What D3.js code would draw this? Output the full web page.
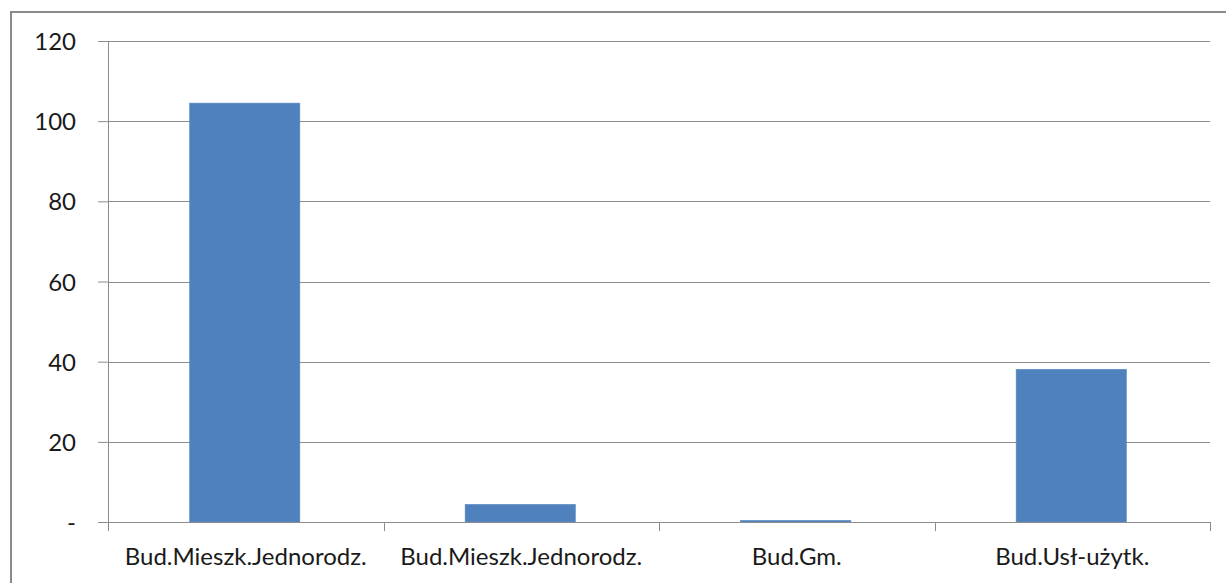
<!DOCTYPE html>
<html>
<head>
<meta charset="utf-8">
<script src="https://cdn.jsdelivr.net/npm/d3@7"></script>
<style>
  html, body { margin: 0; padding: 0; background: #ffffff; }
  svg { display: block; }
  text { font-family: Lato, "Open Sans", sans-serif; fill: #1a1a1a; }
</style>
</head>
<body>
<svg id="chart" width="1226" height="583"></svg>
<script>
// Building categories and their values
const categories = [
  "Bud.Mieszk.Jednorodz.",
  "Bud.Mieszk.Jednorodz.",
  "Bud.Gm.",
  "Bud.Usł-użytk."
];
const values = [104.5, 4.4, 0.4, 38.1];
const yTicks = [0, 20, 40, 60, 80, 100, 120];

const svg = d3.select("#chart");
const W = 1226, H = 583;
const plotLeft = 108, plotRight = 1210, plotTop = 41, plotBottom = 522;
const fontSize = 24;

// outer frame
svg.append("rect")
  .attr("x", 11).attr("y", 12)
  .attr("width", W).attr("height", H)
  .attr("fill", "none")
  .attr("stroke", "#8a8a8a")
  .attr("stroke-width", 2);

// one band per category position (two categories share a name)
const x = d3.scaleBand()
  .domain(d3.range(categories.length))
  .range([plotLeft, plotRight])
  .paddingInner(0.6)
  .paddingOuter(0.3);

const y = d3.scaleLinear().domain([0, 120]).range([plotBottom, plotTop]);

// horizontal gridlines
svg.append("g")
  .selectAll("line")
  .data(yTicks.filter(d => d > 0))
  .join("line")
  .attr("x1", plotLeft).attr("x2", plotRight)
  .attr("y1", d => Math.round(y(d)) + 0.5).attr("y2", d => Math.round(y(d)) + 0.5)
  .attr("stroke", "#8c8c8c")
  .attr("stroke-width", 1);

// y axis
const yAxis = svg.append("g")
  .attr("transform", `translate(${plotLeft},0)`)
  .call(d3.axisLeft(y).tickValues(yTicks).tickSize(10).tickPadding(22)
    .tickFormat(d => d === 0 ? "-" : d));
yAxis.select(".domain").attr("stroke", "#8c8c8c").attr("d", `M0.5,${plotTop}V${plotBottom + 9}`);
yAxis.selectAll(".tick line").attr("stroke", "#8c8c8c");
yAxis.selectAll(".tick text")
  .attr("font-size", fontSize)
  .attr("dy", "0.36em")
  .style("font-family", "Lato, 'Open Sans', sans-serif")
  .attr("fill", "#1a1a1a");

// bars
svg.append("g")
  .selectAll("rect")
  .data(values)
  .join("rect")
  .attr("x", (d, i) => x(i) - 1)
  .attr("width", x.bandwidth())
  .attr("y", d => y(d))
  .attr("height", d => y(0) - y(d))
  .attr("fill", "#4f81bd")
  .attr("stroke", "#5a8ac4")
  .attr("stroke-width", 0.6);

// x axis with boundary ticks between categories
const xg = svg.append("g");
xg.append("line")
  .attr("x1", plotLeft).attr("x2", plotRight)
  .attr("y1", plotBottom + 0.5).attr("y2", plotBottom + 0.5)
  .attr("stroke", "#8c8c8c");
const bounds = d3.range(categories.length + 1).map(i => plotLeft + i * (plotRight - plotLeft) / categories.length);
xg.selectAll("line.tk")
  .data(bounds)
  .join("line")
  .attr("class", "tk")
  .attr("x1", d => Math.round(d) + 0.5).attr("x2", d => Math.round(d) + 0.5)
  .attr("y1", plotBottom).attr("y2", plotBottom + 9)
  .attr("stroke", "#8c8c8c");

xg.selectAll("text")
  .data(categories)
  .join("text")
  .attr("x", (d, i) => x(i) + x.bandwidth() / 2)
  .attr("y", 565)
  .attr("text-anchor", "middle")
  .attr("font-size", fontSize)
  .text(d => d);
</script>
</body>
</html>
